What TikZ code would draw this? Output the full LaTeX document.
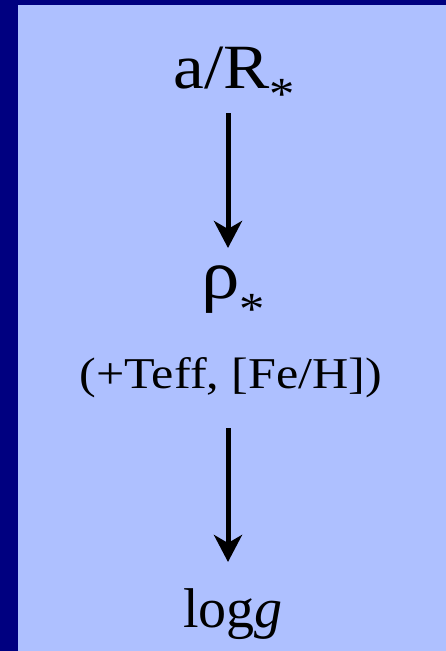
\documentclass[tikz,border=0pt]{standalone}
\usepackage{fontspec}
\setmainfont{Liberation Serif}
\usepackage{tikz}
\usetikzlibrary{arrows.meta,positioning}
\definecolor{pnavy}{HTML}{000080}
\definecolor{pblue}{HTML}{AEC0FF}

\begin{document}
\begin{tikzpicture}[x=1pt,y=1pt,
    lbl/.style={anchor=base,inner sep=0pt},
    arr/.style={line width=5pt,-{Stealth[length=27pt,width=28pt,inset=8pt]}}]
  \useasboundingbox (0,0) rectangle (446,-651);
  \fill[pnavy] (0,0) rectangle (446,-651);
  \fill[pblue] (18,-5) rectangle (446,-651);
  \node[lbl,font=\fontsize{63}{66}\selectfont] (a) at (234,-88)
    {\scalebox{1.1}[1]{a/R\raisebox{-21pt}{\fontsize{46}{48}\selectfont *}}};
  \node[lbl,font=\fontsize{70}{74}\selectfont] (r) at (233,-298)
    {\scalebox{1.1}[1]{ρ\raisebox{-26pt}{\fontsize{46}{48}\selectfont *}}};
  \node[lbl,font=\fontsize{44}{48}\selectfont] (f) at (231,-388)
    {\scalebox{1.14}[1]{(+Teff, [Fe/H])}};
  \node[lbl,font=\fontsize{56}{60}\selectfont] (g) at (233,-627)
    {log\textit{g}};
  \draw[arr] ([shift={(-6,-25)}]a.base) -- ([shift={(-5,50)}]r.base);
  \draw[arr] ([shift={(-3,-40)}]f.base) -- ([shift={(-5,65)}]g.base);
\end{tikzpicture}
\end{document}
